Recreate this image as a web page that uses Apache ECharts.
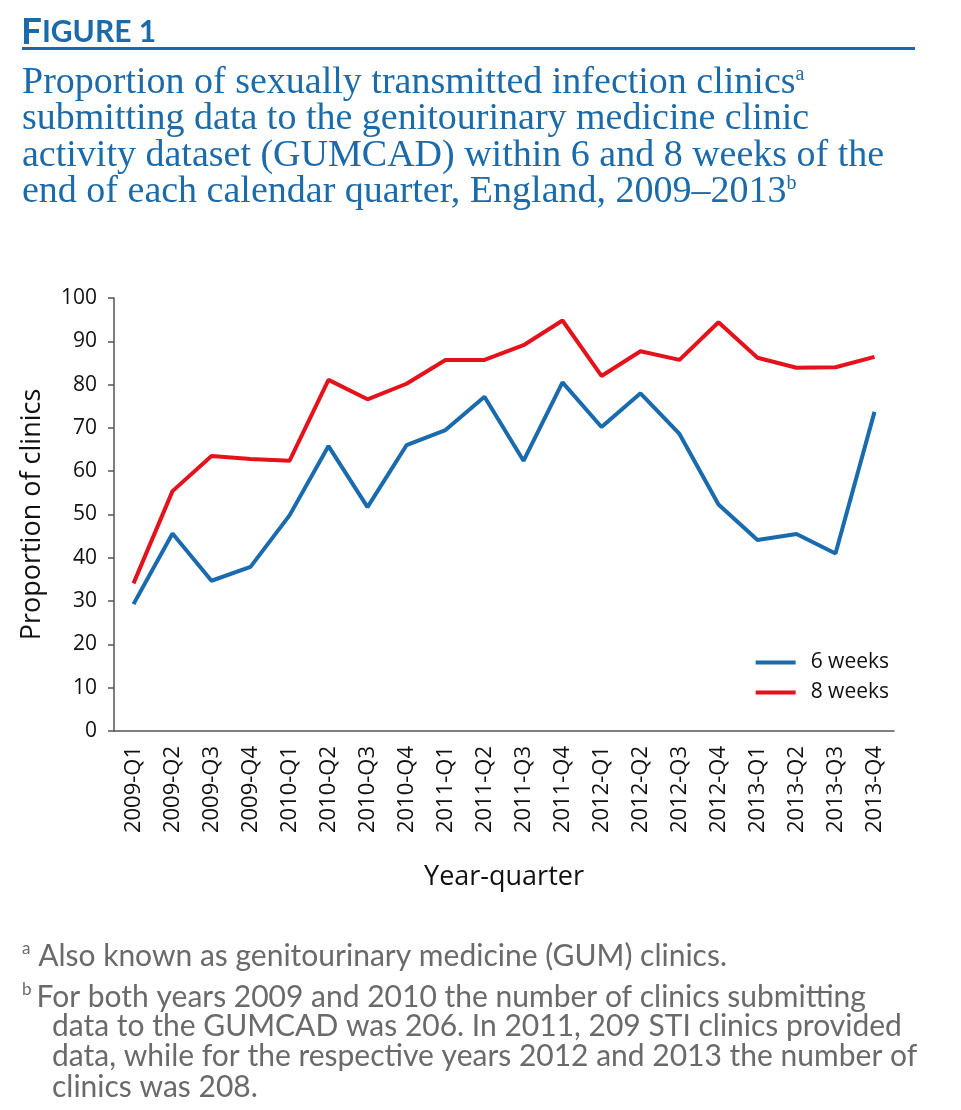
<!DOCTYPE html>
<html><head><meta charset="utf-8">
<script src="https://cdn.jsdelivr.net/npm/echarts@6/dist/echarts.min.js"></script>
<style>html,body{margin:0;padding:0;background:#fff}#c{width:961px;height:1110px}</style>
</head><body><div id="c"></div>
<script>
var categories = ['2009-Q1','2009-Q2','2009-Q3','2009-Q4','2010-Q1','2010-Q2','2010-Q3','2010-Q4','2011-Q1','2011-Q2','2011-Q3','2011-Q4','2012-Q1','2012-Q2','2012-Q3','2012-Q4','2013-Q1','2013-Q2','2013-Q3','2013-Q4'];
var weeks6 = [29.3,45.6,34.7,37.9,49.8,65.8,51.7,66.0,69.5,77.2,62.4,80.5,70.2,78.0,68.6,52.3,44.1,45.5,41.0,73.7];
var weeks8 = [34.1,55.4,63.5,62.8,62.4,81.1,76.6,80.2,85.7,85.7,89.1,94.8,82.0,87.7,85.7,94.4,86.2,83.9,84.0,86.4];
var yTicks = [0,10,20,30,40,50,60,70,80,90,100];

var BLUE = '#1a6aae', RED = '#e3121b', TBLUE = '#1b6aa9', GREY = '#6a6a6c';
var FN = 'Lato';
var chart = echarts.init(document.getElementById('c'), null, {renderer:'canvas'});
chart.setOption({
  animation:false,
  backgroundColor:'#fff',
  title:[
    {text:'{b|F}{s|IGURE 1}', left:21, top:14, padding:0,
     textStyle:{rich:{b:{fontFamily:'Lato', fontWeight:'bold', fontSize:37, color:TBLUE},
                      s:{fontFamily:'Lato', fontWeight:'bold', fontSize:30, color:TBLUE}}}},
    {text:'Proportion of sexually transmitted infection clinics{s|a}\nsubmitting data to the genitourinary medicine clinic\nactivity dataset (GUMCAD) within 6 and 8 weeks of the\nend of each calendar quarter, England, 2009–2013{s|b}',
     left:22, top:65, padding:0, textStyle:{fontFamily:'Liberation Serif', fontWeight:'normal', fontSize:38, lineHeight:36.3, color:TBLUE,
       rich:{s:{fontFamily:'Liberation Serif', fontWeight:'normal', fontSize:20, color:TBLUE, padding:[0,0,16,0]}}}},
    {text:'{s|a} Also known as genitourinary medicine (GUM) clinics.', left:22, top:940, padding:0,
     textStyle:{fontFamily:FN, fontWeight:'normal', fontSize:30, color:GREY, rich:{s:{fontFamily:FN, fontWeight:'normal', fontSize:17, color:GREY, padding:[0,0,16,0]}}}},
    {text:'{s|b}For both years 2009 and 2010 the number of clinics submitting', left:22, top:981, padding:0,
     textStyle:{fontFamily:FN, fontWeight:'normal', fontSize:30, color:GREY, rich:{s:{fontFamily:FN, fontWeight:'normal', fontSize:17, color:GREY, padding:[0,5,16,0]}}}},
    {text:'data to the GUMCAD was 206. In 2011, 209 STI clinics provided\ndata, while for the respective years 2012 and 2013 the number of\nclinics was 208.', left:52, top:1011, padding:0,
     textStyle:{fontFamily:FN, fontWeight:'normal', fontSize:30, lineHeight:30.5, color:GREY}}
  ],
  graphic:[{type:'rect', shape:{x:22, y:47, width:893, height:3}, style:{fill:TBLUE}}],
  legend:{
    right:67, top:647, orient:'vertical', itemWidth:40, itemHeight:4, itemGap:9, icon:'rect',
    textStyle:{fontFamily:'Open Sans', fontSize:21, color:'#111', padding:[0,0,0,10]},
    data:['6 weeks','8 weeks']
  },
  grid:{left:114, right:67, top:298, bottom:379, containLabel:false},
  xAxis:{
    type:'category', data:categories, boundaryGap:true,
    name:'Year-quarter', nameLocation:'middle', nameGap:133,
    nameTextStyle:{fontFamily:'Open Sans', fontSize:27, color:'#111'},
    axisLine:{lineStyle:{color:'#555', width:1.5}},
    axisTick:{show:false},
    axisLabel:{rotate:90, interval:0, fontFamily:'Open Sans', fontSize:22, color:'#111', margin:15}
  },
  yAxis:{
    type:'value', min:0, max:100, interval:10,
    name:'Proportion of clinics', nameLocation:'middle', nameGap:68,
    nameTextStyle:{fontFamily:'Open Sans', fontSize:27, color:'#111'},
    axisLine:{show:true, lineStyle:{color:'#555', width:1.5}},
    axisTick:{show:true, length:6, lineStyle:{color:'#555', width:1.5}},
    splitLine:{show:false},
    axisLabel:{fontFamily:'Open Sans', fontSize:21, color:'#111', margin:17,
      formatter:function(v){return yTicks.indexOf(v)>=0 ? String(v) : '';}}
  },
  series:[
    {name:'6 weeks', type:'line', data:weeks6, symbol:'none', lineStyle:{color:BLUE, width:4}, itemStyle:{color:BLUE}},
    {name:'8 weeks', type:'line', data:weeks8, symbol:'none', lineStyle:{color:RED, width:4}, itemStyle:{color:RED}}
  ]
});
</script></body></html>
